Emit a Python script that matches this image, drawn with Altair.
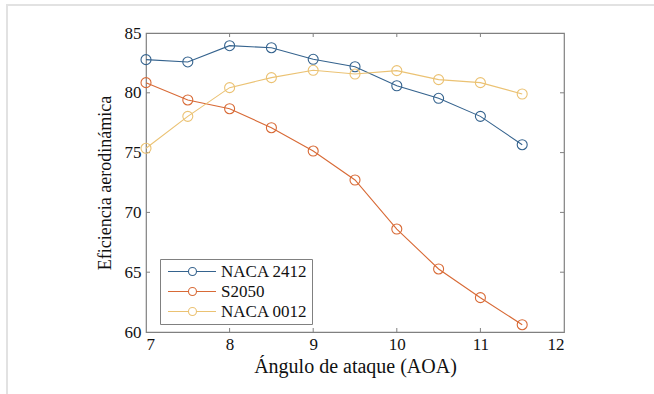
import altair as alt
import pandas as pd

# ---- data ----
aoa = [7, 7.5, 8, 8.5, 9, 9.5, 10, 10.5, 11, 11.5]
naca2412 = [82.77, 82.58, 83.94, 83.77, 82.80, 82.18, 80.59, 79.54, 78.03, 75.66]
s2050 = [80.85, 79.40, 78.67, 77.08, 75.13, 72.71, 68.61, 65.27, 62.87, 60.61]
naca0012 = [75.36, 78.03, 80.43, 81.27, 81.88, 81.57, 81.85, 81.10, 80.85, 79.90]
series = ["NACA 2412", "S2050", "NACA 0012"]
colors = ["#35638e", "#d86a36", "#ebc273"]
x_ticks = [7, 8, 9, 10, 11, 12]
y_ticks = [60, 65, 70, 75, 80, 85]

rows = []
for name, vals in zip(series, [naca2412, s2050, naca0012]):
    for a, v in zip(aoa, vals):
        rows.append({"aoa": a, "ef": v, "perfil": name})
df = pd.DataFrame(rows)

W, H = 418, 299
FONT = "Liberation Serif"
AX = "#808080"

xs = alt.Scale(domain=[7, 12], nice=False)
ys = alt.Scale(domain=[60, 85], nice=False, zero=False)

# legend symbol: line with an open circle in the middle (unit coords, scaled by sqrt(size)/2)
sym = ("M-1,0L3.55,0M5.33,0L9.67,0"
       "M3.55,0A0.89,0.89,0,1,1,5.33,0A0.89,0.89,0,1,1,3.55,0")

color = alt.Color(
    "perfil:N",
    scale=alt.Scale(domain=series, range=colors),
    sort=series,
    legend=alt.Legend(
        title=None, orient="none", legendX=14, legendY=226,
        symbolType=sym, symbolSize=81, symbolStrokeWidth=1.1,
        symbolFillColor="transparent",
        labelFont=FONT, labelFontSize=17, labelColor="#111",
        labelOffset=40, rowPadding=2, padding=4,
        fillColor="white", strokeColor="#808080",
        labelLimit=200,
    ),
)

x_enc = alt.X("aoa:Q", scale=xs, axis=alt.Axis(
    values=x_ticks, format="d", title="Ángulo de ataque (AOA)", grid=False, domain=False, ticks=False,
    labelFont=FONT, labelFontSize=17, labelColor="#111", labelPadding=4,
    titleFont=FONT, titleFontSize=20, titleFontWeight="normal", titleColor="#111", titlePadding=4))
y_enc = alt.Y("ef:Q", scale=ys, axis=alt.Axis(
    values=y_ticks, format="d", title="Eficiencia aerodinámica", grid=False, domain=False, ticks=False,
    labelFont=FONT, labelFontSize=17, labelColor="#111", labelPadding=5,
    titleFont=FONT, titleFontSize=18, titleFontWeight="normal", titleColor="#111", titlePadding=10))

base = alt.Chart(df)
lines = base.mark_line(strokeWidth=1.1).encode(x=x_enc, y=y_enc, color=color)
points = base.mark_point(filled=False, size=100, strokeWidth=1.1, opacity=1).encode(
    x=x_enc, y=y_enc, color=color)

# inward tick marks on all four sides
xt = pd.DataFrame({"t": [8, 9, 10, 11]})
yt = pd.DataFrame({"t": [65, 70, 75, 80]})
tick_x_bot = alt.Chart(xt).mark_rule(color=AX, strokeWidth=1).encode(
    x=alt.X("t:Q", scale=xs), y=alt.value(H), y2=alt.value(H - 4))
tick_x_top = alt.Chart(xt).mark_rule(color=AX, strokeWidth=1).encode(
    x=alt.X("t:Q", scale=xs), y=alt.value(0), y2=alt.value(4))
tick_y_left = alt.Chart(yt).mark_rule(color=AX, strokeWidth=1).encode(
    y=alt.Y("t:Q", scale=ys), x=alt.value(0), x2=alt.value(4))
tick_y_right = alt.Chart(yt).mark_rule(color=AX, strokeWidth=1).encode(
    y=alt.Y("t:Q", scale=ys), x=alt.value(W), x2=alt.value(W - 4))

# light page frame (top and left edges) seen in the reference
frame_top = alt.Chart(xt).mark_rule(color="#e2e2e2", strokeWidth=2).encode(
    x=alt.value(-140), x2=alt.value(508), y=alt.value(-28))
frame_left = alt.Chart(xt).mark_rule(color="#e2e2e2", strokeWidth=2).encode(
    x=alt.value(-139), y=alt.value(-28), y2=alt.value(362))

chart = alt.layer(
    frame_top, frame_left, tick_x_bot, tick_x_top, tick_y_left, tick_y_right, lines, points
).properties(
    width=W, height=H,
    autosize=alt.AutoSizeParams(type="none"),
    padding={"left": 146, "top": 33, "right": 90, "bottom": 62},
    background="white",
).configure(font=FONT).configure_axis(
    labelFont=FONT, titleFont=FONT
).configure_legend(labelFont=FONT).configure_view(stroke=AX, strokeWidth=1.2)

chart.save("out.html", embed_options={"renderer": "svg", "actions": False})
